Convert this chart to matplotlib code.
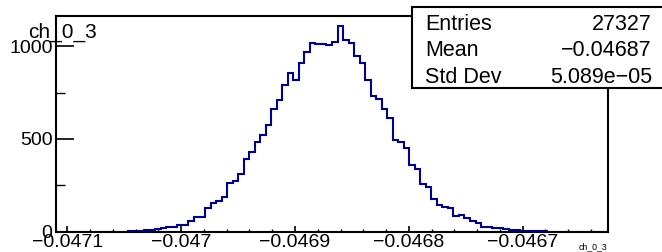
# ROOT style histogram of ch_0_3 with stats box

import numpy as np
import matplotlib
matplotlib.use('Agg')
import matplotlib.pyplot as plt
from matplotlib.patches import Rectangle
from matplotlib.ticker import MultipleLocator, FuncFormatter

hist_name = 'ch_0_3'
x_lo = -0.04711
x_hi = -0.046625
counts = [0, 0, 0, 0, 0, 0, 0, 0, 0, 0,
          0, 0, 0, 2, 4, 5, 8, 9, 12, 18,
          24, 26, 34, 36, 60, 78, 80, 126, 157, 166,
          188, 264, 274, 312, 391, 429, 485, 523, 577, 663,
          708, 793, 854, 820, 910, 970, 1016, 1015, 1013, 1007,
          1024, 1108, 1032, 1018, 950, 910, 820, 733, 717, 661,
          611, 497, 485, 452, 362, 336, 258, 242, 177, 146,
          135, 130, 85, 92, 76, 60, 45, 27, 27, 18,
          20, 13, 10, 8, 6, 5, 3, 2, 2, 1,
          0, 0, 0, 0, 0, 0, 0, 0, 0, 0]
stat_names = ['Entries', 'Mean', 'Std Dev']
stat_values = ['27327', '\u22120.04687', '5.089e\u221205']

W, H = 662, 252
plt.rcParams['font.family'] = ['Liberation Sans', 'DejaVu Sans']

def fx(px):
    return px / W

def fy(py):
    return 1 - py / H

fig = plt.figure(figsize=(W / 100, H / 100), dpi=100)
ax = fig.add_axes([fx(56), fy(231.7), fx(608) - fx(56), fy(16) - fy(231.7)])

edges = np.linspace(x_lo, x_hi, len(counts) + 1)
ax.stairs(counts, edges, color='#000099', lw=1.5, baseline=0)

ax.set_xlim(x_lo, x_hi)
ax.set_ylim(0, max(counts) * 1.05)

for s in ax.spines.values():
    s.set_linewidth(1.5)

ax.xaxis.set_major_locator(MultipleLocator(0.0001))
ax.xaxis.set_minor_locator(MultipleLocator(0.00002))
ax.yaxis.set_major_locator(MultipleLocator(500))
ax.yaxis.set_minor_locator(MultipleLocator(250))
ax.xaxis.set_major_formatter(FuncFormatter(lambda v, p: ('%g' % v).replace('-', '\u2212')))
ax.yaxis.set_major_formatter(FuncFormatter(lambda v, p: '%d' % v))

ax.tick_params(axis='both', which='both', direction='in', top=False, right=False, labelsize=14)
ax.tick_params(axis='x', which='major', length=4.3, width=1.2, pad=1.5)
ax.tick_params(axis='x', which='minor', length=2.2, width=1.0)
ax.tick_params(axis='y', which='major', length=12.7, width=1.2, pad=2.5)
ax.tick_params(axis='y', which='minor', length=6.7, width=1.0)

# title at top left
fig.text(fx(28), fy(38), hist_name, fontsize=15, va='baseline', ha='left')
# axis title at bottom right
fig.text(fx(607), fy(249), hist_name, fontsize=6.3, va='baseline', ha='right')

# stats box
box = Rectangle((fx(412.3), fy(87.7)), fx(680) - fx(412.3), fy(7.3) - fy(87.7),
                transform=fig.transFigure, facecolor='white', edgecolor='black',
                lw=1.5, zorder=5)
fig.add_artist(box)
baselines = [30, 55.5, 83]
for name, val, b in zip(stat_names, stat_values, baselines):
    fig.text(fx(425), fy(b), name, fontsize=15.5, va='baseline', ha='left', zorder=6)
    fig.text(fx(652), fy(b), val, fontsize=15.5, va='baseline', ha='right', zorder=6)

fig.savefig('out.png', dpi=100)
